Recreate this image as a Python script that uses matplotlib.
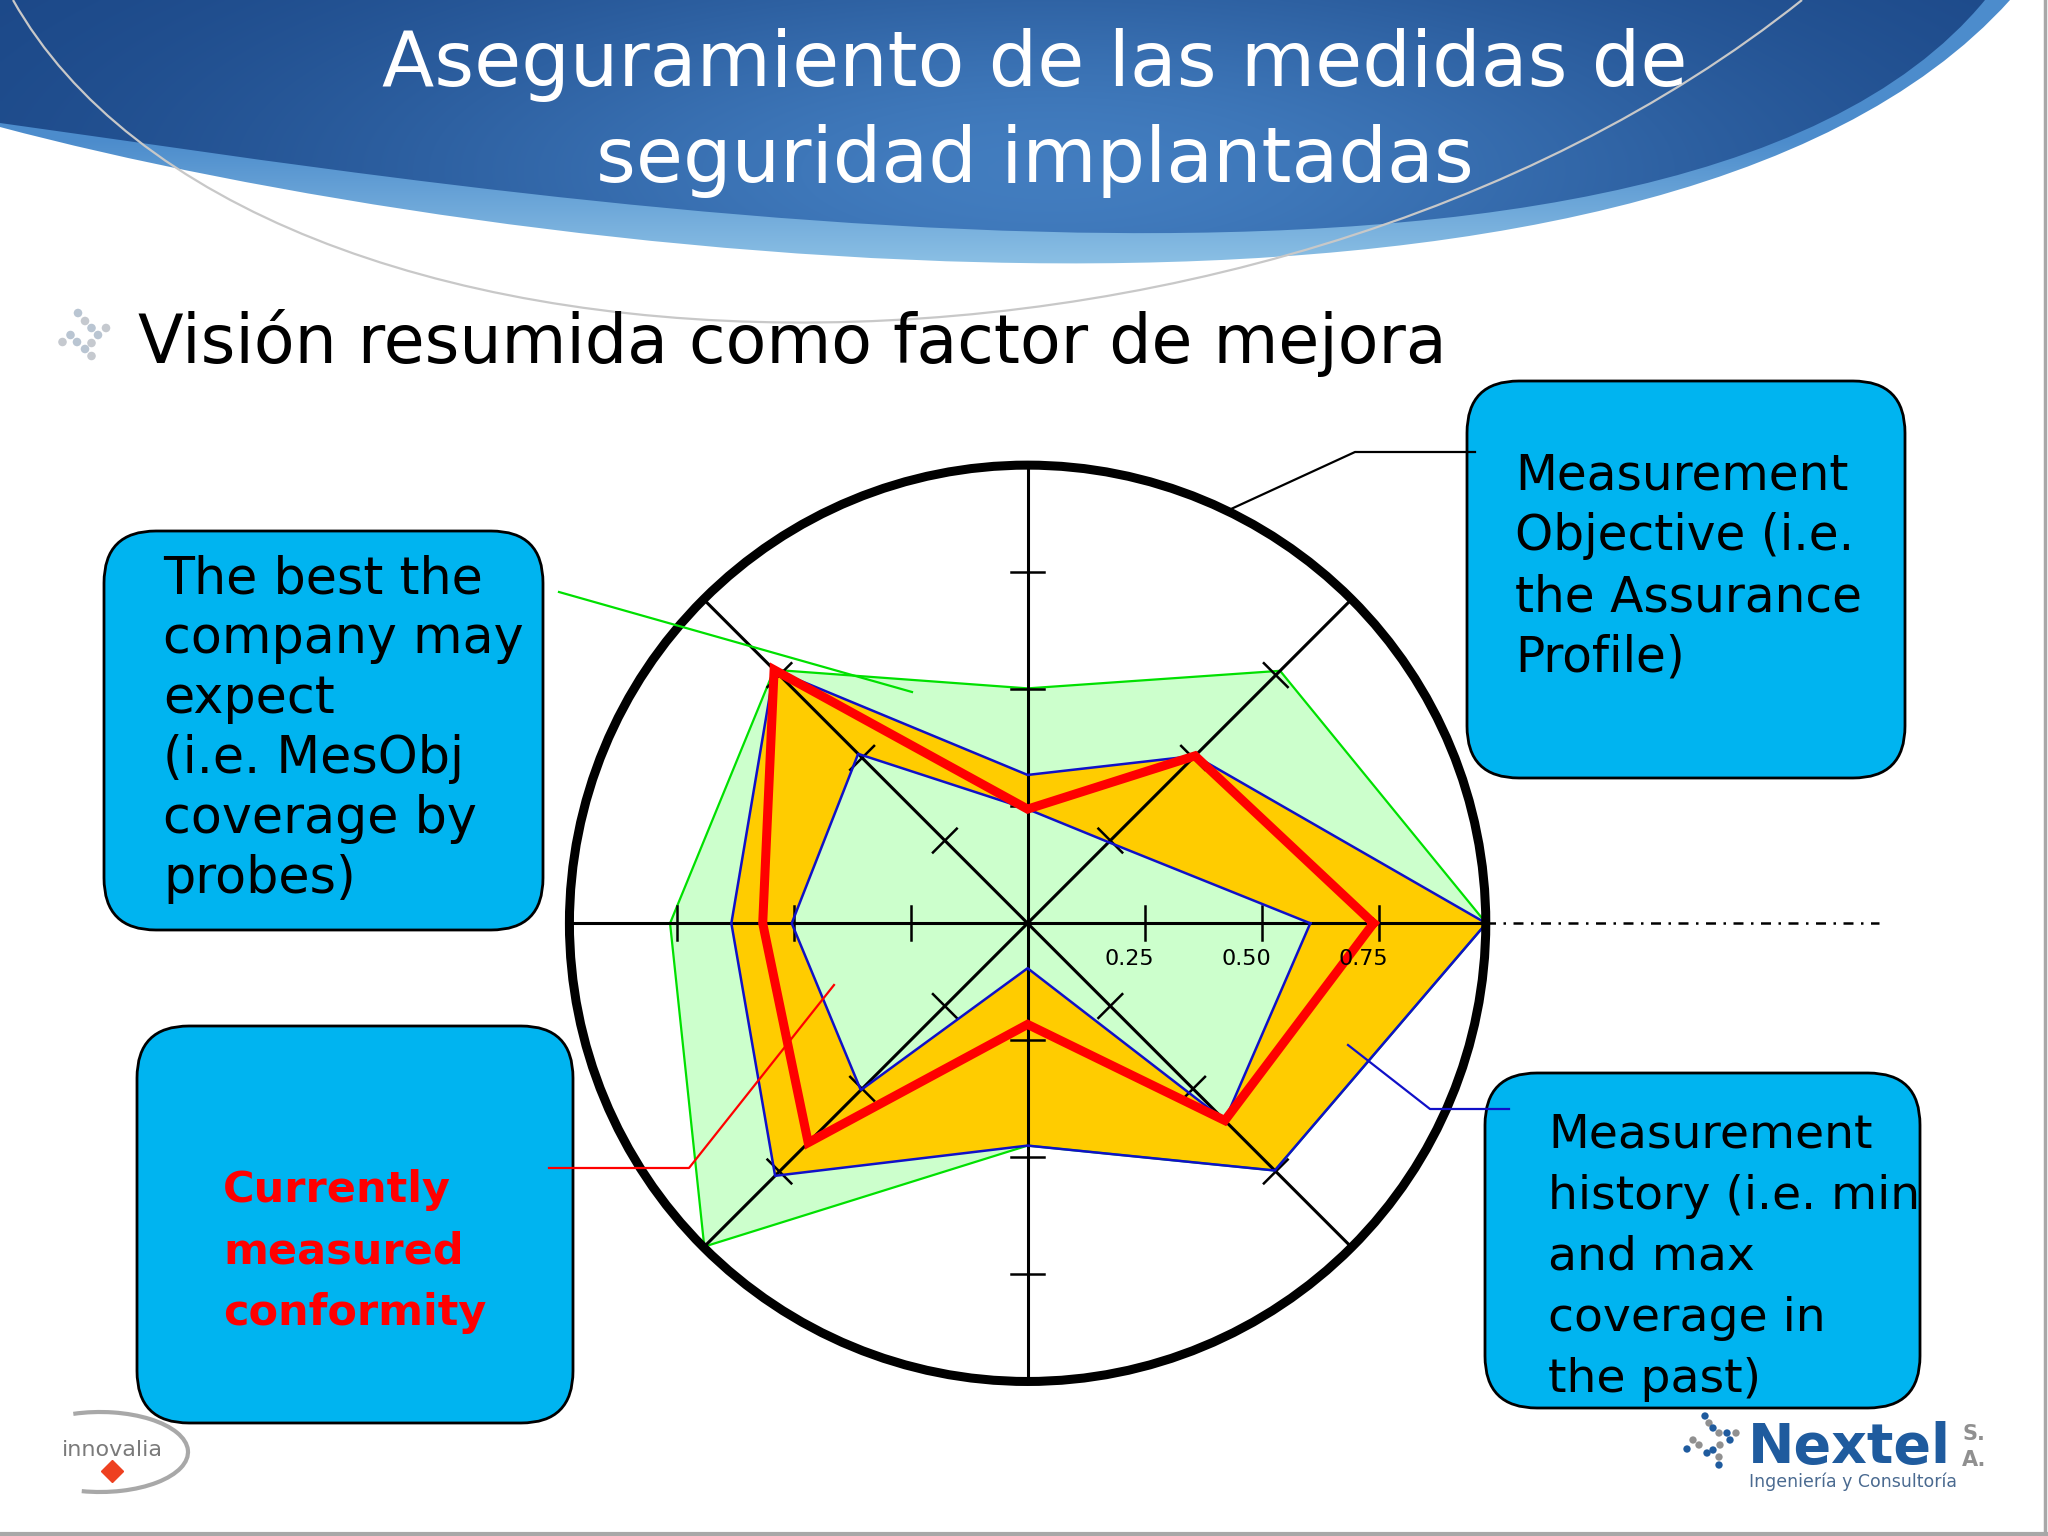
"""
Slide: radar chart of security measure assurance (Nextel / innovalia).
"""
import numpy as np
import matplotlib
matplotlib.use("Agg")
import matplotlib.pyplot as plt
from matplotlib.patches import FancyBboxPatch, PathPatch, Arc, Circle
from matplotlib.path import Path

W, H = 2048, 1536

# radar axes, counter-clockwise from the right-hand axis
directions = ["E", "NE", "N", "NW", "W", "SW", "S", "SE"]
angles_deg = [0, 45, 90, 135, 180, 225, 270, 315]

# series values (1.0 = outer ring)
best_expected = [0.98, 0.763, 0.502, 0.766, 0.764, 0.977, 0.475, 0.747]
history_max = [0.98, 0.506, 0.317, 0.766, 0.633, 0.763, 0.475, 0.747]
history_min = [0.604, 0.245, 0.244, 0.512, 0.504, 0.504, 0.096, 0.596]
current = [0.739, 0.506, 0.244, 0.766, 0.566, 0.663, 0.216, 0.596]

tick_values = [0.25, 0.50, 0.75]
tick_labels = ["0.25", "0.50", "0.75"]

title_lines = ["Aseguramiento de las medidas de", "seguridad implantadas"]
bullet_text = "Visión resumida como factor de mejora"
box_best = ["The best the", "company may", "expect", "(i.e. MesObj", "coverage by", "probes)"]
box_objective = ["Measurement", "Objective (i.e.", "the Assurance", "Profile)"]
box_current = ["Currently", "measured", "conformity"]
box_history = ["Measurement", "history (i.e. min", "and max", "coverage in", "the past)"]

FONT = "DejaVu Sans"
BOX_BLUE = "#00b4f0"

fig = plt.figure(figsize=(20.48, 15.36), dpi=100)

# ---------- background (header swoosh) ----------
bg = fig.add_axes([0, 0, 1, 1])
bg.set_xlim(0, W)
bg.set_ylim(H, 0)
bg.axis("off")
bg.set_zorder(0)

yy, xx = np.mgrid[0:300:2, 0:W:4]
t = np.exp(-((xx - 1050) / 750.0) ** 2 - ((yy - 170) / 220.0) ** 2)
dark = np.array([0.10, 0.27, 0.52])
light = np.array([0.26, 0.49, 0.75])
img_dark = dark + t[..., None] * (light - dark)

band_top = np.array([0.30, 0.55, 0.80])
band_bot = np.array([0.58, 0.78, 0.91])
s = np.clip((yy - 140) / 140.0, 0, 1)
img_band = band_top + s[..., None] * (band_bot - band_top)

codes = [Path.MOVETO, Path.LINETO, Path.CURVE4, Path.CURVE4, Path.CURVE4, Path.CLOSEPOLY]
band_path = Path([(0, 0), (0, 127), (500, 260), (1650, 400), (2010, 0), (0, 0)], codes)
dark_path = Path([(0, 0), (0, 123), (450, 185), (1662, 392), (1985, 0), (0, 0)], codes)

for path, img in [(band_path, img_band), (dark_path, img_dark)]:
    patch = PathPatch(path, facecolor="none", edgecolor="none")
    bg.add_patch(patch)
    im = bg.imshow(img, extent=(0, W, 300, 0), aspect="auto", zorder=1,
                   interpolation="bilinear")
    im.set_clip_path(patch)

# thin grey swoosh line
arc_path = Path([(13, 0), (250, 420), (1250, 440), (1802, 0)],
                [Path.MOVETO, Path.CURVE4, Path.CURVE4, Path.CURVE4])
bg.add_patch(PathPatch(arc_path, facecolor="none", edgecolor="#c8c8c8", lw=1.6, zorder=2))

# slide border
bg.plot([0, W], [1534, 1534], color="#a8a8a8", lw=3, zorder=2)
bg.plot([2045, 2045], [0, H], color="#a8a8a8", lw=2.5, zorder=2)

# ---------- radar chart ----------
cx, cy, unit = 1027.6, 923.3, 468.0
span = 1.05
rad = fig.add_axes([(cx - span * unit) / W, (H - cy - span * unit) / H,
                    2 * span * unit / W, 2 * span * unit / H])
rad.set_xlim(-span, span)
rad.set_ylim(-span, span)
rad.axis("off")
rad.set_zorder(1)

theta = np.deg2rad(angles_deg)


def ring(vals):
    r = np.asarray(vals, dtype=float)
    x = r * np.cos(theta)
    y = r * np.sin(theta)
    return np.append(x, x[0]), np.append(y, y[0])


R = 0.979  # outer ring radius
rad.fill(*ring(best_expected), color="#ccffcc", lw=0, zorder=1)
rad.fill(*ring(history_max), color="#ffcc00", lw=0, zorder=2)
rad.fill(*ring(history_min), color="#ccffcc", lw=0, zorder=3)
rad.plot(*ring(best_expected), color="#00e000", lw=1.6, zorder=4)

# axes and tick marks
for a in theta[:4]:
    rad.plot([-R * np.cos(a), R * np.cos(a)], [-R * np.sin(a), R * np.sin(a)],
             color="black", lw=2.2, zorder=5, solid_capstyle="butt")
for a in theta:
    for v in tick_values:
        px, py = v * np.cos(a), v * np.sin(a)
        dx, dy = -np.sin(a) * 0.036, np.cos(a) * 0.036
        rad.plot([px - dx, px + dx], [py - dy, py + dy], color="black", lw=1.8, zorder=5)

rad.plot(*ring(history_max), color="#1010c8", lw=1.8, zorder=6)
rad.plot(*ring(history_min), color="#1010c8", lw=1.8, zorder=6)
rad.plot(*ring(current), color="#ff0000", lw=6.5, zorder=7, solid_joinstyle="miter")

rad.add_patch(Circle((0, 0), R, fill=False, ec="black", lw=6.5, zorder=8))
rad.plot([0.92, 1.82], [0, 0], color="black", lw=1.8, ls=(0, (4, 3, 1, 3)),
         clip_on=False, zorder=8)

for v, lab in zip(tick_values, tick_labels):
    rad.text(v - 0.032, -0.076, lab, ha="center", va="center", fontsize=16,
             family=FONT, zorder=9)

# ---------- foreground: boxes, callouts, text ----------
fg = fig.add_axes([0, 0, 1, 1])
fg.set_xlim(0, W)
fg.set_ylim(H, 0)
fg.axis("off")
fg.set_zorder(2)
fg.patch.set_visible(False)

fg.text(1035, 86, title_lines[0], ha="center", va="baseline", color="white",
        fontsize=55, family=FONT)
fg.text(1035, 182, title_lines[1], ha="center", va="baseline", color="white",
        fontsize=55, family=FONT)

# bullet icon (dotted chevron) and bullet text
bullet_x = [78, 85, 91.5, 106, 98, 91.5, 85, 91.5, 70.5, 62.5, 77]
bullet_y = [313, 321, 328, 328, 335, 343, 349, 356, 335, 342, 342]
fg.scatter(bullet_x, bullet_y, s=38, color=["#b9c5d2", "#c5c9cf"] * 5 + ["#b9c5d2"],
           zorder=3, lw=0)
fg.text(138, 363, bullet_text, ha="left", va="baseline", fontsize=48, family=FONT)

boxes = [
    ((104, 531, 439, 399), box_best, 163, 593, 60.0, 36.5, dict(color="black")),
    ((1467, 381, 438, 397), box_objective, 1515, 490, 60.5, 35, dict(color="black")),
    ((137, 1026, 436, 397), box_current, 223, 1202, 61.5, 31, dict(color="#ff0000", fontweight="bold")),
    ((1485, 1073, 435, 335), box_history, 1548, 1148, 60.9, 34, dict(color="black")),
]
for (x0, y0, bw, bh), lines, tx, ty, step, fs, style in boxes:
    fg.add_patch(FancyBboxPatch((x0, y0), bw, bh, boxstyle="round,pad=0,rounding_size=52",
                                fc=BOX_BLUE, ec="black", lw=2, zorder=2))
    for i, line in enumerate(lines):
        fg.text(tx, ty + i * step, line, ha="left", va="baseline", fontsize=fs,
                family=FONT, zorder=3, **style)

# callout lines
fg.plot([559, 912], [592, 692], color="#00e000", lw=1.6, zorder=4)
fg.plot([549, 689, 834], [1168, 1168, 985], color="#ff0000", lw=1.6, zorder=4)
fg.plot([1348, 1430, 1509], [1045, 1109, 1109], color="#1010c8", lw=1.6, zorder=4)
fg.plot([1231, 1355, 1475], [509, 452, 452], color="black", lw=1.6, zorder=4)

# innovalia logo
fg.add_patch(Arc((100, 1452), 176, 80, theta1=-125, theta2=115, color="#a8a8a8", lw=3, zorder=3))
fg.text(112, 1450, "innovalia", ha="center", va="center", fontsize=16, color="#7a7a7a",
        family=FONT, zorder=3)
fg.plot([112], [1471], marker="D", ms=11, color="#ee4020", zorder=3)

# Nextel logo
dots_x = [1705, 1709, 1713, 1719, 1727, 1736, 1730, 1720, 1713, 1719, 1719, 1693, 1687, 1699, 1707]
dots_y = [1416, 1423, 1428, 1433, 1433, 1433, 1440, 1445, 1450, 1457, 1465, 1440, 1449, 1445, 1453]
fg.scatter(dots_x, dots_y, s=28, lw=0, zorder=3,
           color=["#1f5b9e", "#909090"] * 7 + ["#1f5b9e"])
fg.text(1748, 1463, "Nextel", ha="left", va="baseline", fontsize=40, fontweight="bold",
        color="#1f5b9e", family=FONT, zorder=3)
fg.text(1962, 1440, "S.", ha="left", va="baseline", fontsize=15, fontweight="bold",
        color="#909090", family=FONT, zorder=3)
fg.text(1962, 1466, "A.", ha="left", va="baseline", fontsize=15, fontweight="bold",
        color="#909090", family=FONT, zorder=3)
fg.text(1749, 1487, "Ingeniería y Consultoría", ha="left", va="baseline", fontsize=12.5,
        color="#4a6a90", family=FONT, zorder=3)

fig.savefig("out.png", dpi=100)
